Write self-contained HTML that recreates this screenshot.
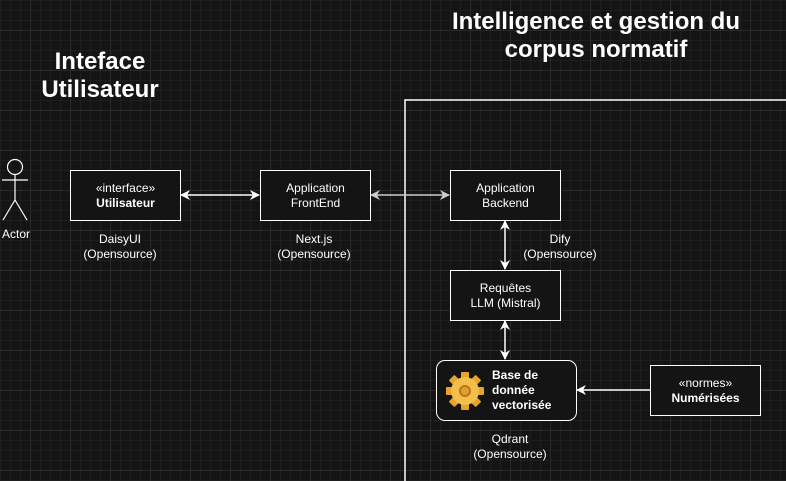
<!DOCTYPE html>
<html><head><meta charset="utf-8"><style>
html,body{margin:0;padding:0;}
body{width:786px;height:481px;overflow:hidden;background:#141414;
background-image:
linear-gradient(#2a2a2a 1px,transparent 1px),linear-gradient(90deg,#2a2a2a 1px,transparent 1px),
linear-gradient(#1e1e1e 1px,transparent 1px),linear-gradient(90deg,#1e1e1e 1px,transparent 1px);
background-size:40px 40px,40px 40px,10px 10px,10px 10px;background-position:-10px -10px,-10px -10px,0 0,0 0;
font-family:"Liberation Sans",Arial,sans-serif;color:#fff;position:relative;}
.t{position:absolute;text-align:center;font-size:12px;line-height:15px;}
.b{position:absolute;border:1.5px solid #fff;background:#141414;box-sizing:border-box;display:flex;align-items:center;justify-content:center;text-align:center;font-size:12px;line-height:15px;}
h1{position:absolute;margin:0;font-size:24px;line-height:28px;font-weight:bold;text-align:center;}
</style></head><body>
<h1 style="left:0px;top:48px;width:200px;">Inteface<br>Utilisateur</h1>
<h1 style="left:426px;top:8px;width:340px;">Intelligence et gestion du<br>corpus normatif</h1>
<svg width="786" height="481" style="position:absolute;left:0;top:0">
<defs><marker id="a" markerWidth="10" markerHeight="10" refX="9" refY="5" orient="auto-start-reverse" markerUnits="userSpaceOnUse"><path d="M0,0 L10,5 L0,10 L3,5z" fill="#fff"/></marker>
<marker id="g" markerWidth="10" markerHeight="10" refX="9" refY="5" orient="auto-start-reverse" markerUnits="userSpaceOnUse"><path d="M0,0 L10,5 L0,10 L3,5z" fill="#ccc"/></marker></defs>
<path d="M405,481 V100 H786" fill="none" stroke="#fff" stroke-width="1.5"/>
<circle cx="15" cy="167" r="7.5" fill="none" stroke="#fff" stroke-width="1.2"/>
<path d="M15,175 V200 M2,180 H28 M15,200 L3,220 M15,200 L27,220" stroke="#fff" stroke-width="1.2" fill="none"/>
<line x1="181" y1="195" x2="259" y2="195" stroke="#fff" stroke-width="1.5" marker-start="url(#a)" marker-end="url(#a)"/>
<line x1="371" y1="195" x2="449" y2="195" stroke="#ccc" stroke-width="1.5" marker-start="url(#g)" marker-end="url(#g)"/>
<line x1="505" y1="221" x2="505" y2="269" stroke="#fff" stroke-width="1.5" marker-start="url(#a)" marker-end="url(#a)"/>
<line x1="505" y1="321" x2="505" y2="359" stroke="#fff" stroke-width="1.5" marker-start="url(#a)" marker-end="url(#a)"/>
<line x1="650" y1="390" x2="577" y2="390" stroke="#fff" stroke-width="1.5" marker-end="url(#a)"/>
</svg>
<div class="t" style="left:0;top:227px;width:32px;">Actor</div>
<div class="b" style="left:70px;top:170px;width:111px;height:51px;"><div>«interface»<br><b>Utilisateur</b></div></div>
<div class="b" style="left:260px;top:170px;width:111px;height:51px;">Application<br>FrontEnd</div>
<div class="b" style="left:450px;top:170px;width:111px;height:51px;">Application<br>Backend</div>
<div class="b" style="left:450px;top:270px;width:111px;height:51px;">Requêtes<br>LLM (Mistral)</div>
<div class="b" style="left:650px;top:365px;width:111px;height:51px;"><div>«normes»<br><b>Numérisées</b></div></div>
<div class="b" style="left:436px;top:360px;width:141px;height:61px;border-radius:9px;justify-content:flex-start;">
<svg width="42" height="42" viewBox="0 0 42 42" style="margin:0 6px 0 7px;flex:none"><g transform="translate(21,21)"><g fill="#e8a42a">
<rect x="-4" y="-19" width="8" height="38" rx="1"/><rect x="-4" y="-19" width="8" height="38" rx="1" transform="rotate(45)"/><rect x="-4" y="-19" width="8" height="38" rx="1" transform="rotate(90)"/><rect x="-4" y="-19" width="8" height="38" rx="1" transform="rotate(135)"/></g>
<circle r="14" fill="#f2c04a"/><circle r="6" fill="#b9761a"/><circle r="4" fill="#e0a030"/></g></svg>
<b style="text-align:left">Base de<br>donnée<br>vectorisée</b></div>
<div class="t" style="left:70px;top:232px;width:100px;">DaisyUI<br>(Opensource)</div>
<div class="t" style="left:264px;top:232px;width:100px;">Next.js<br>(Opensource)</div>
<div class="t" style="left:510px;top:232px;width:100px;">Dify<br>(Opensource)</div>
<div class="t" style="left:460px;top:432px;width:100px;">Qdrant<br>(Opensource)</div>
</body></html>
